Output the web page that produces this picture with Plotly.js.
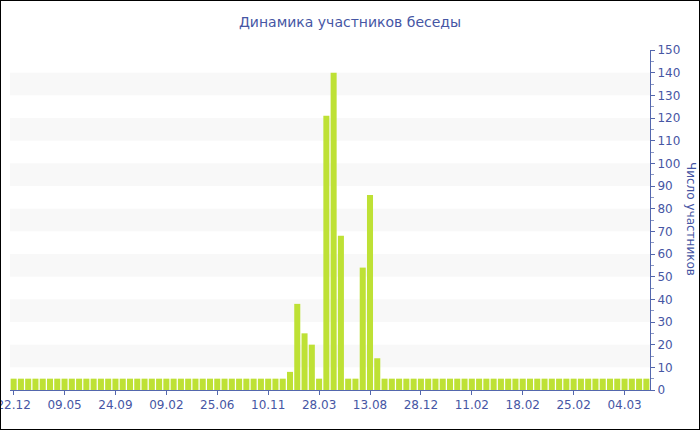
<!DOCTYPE html>
<html>
<head>
<meta charset="utf-8">
<script src="https://cdn.plot.ly/plotly-3.0.1.min.js"></script>
<style>
  html, body { margin: 0; padding: 0; background: #fff; }
  #wrap { position: relative; width: 700px; height: 430px; overflow: hidden; }
  #chart { position: absolute; left: 0; top: 0; width: 700px; height: 430px; }
  #frame { position: absolute; left: 0; top: 0; width: 700px; height: 430px; box-sizing: border-box; border: 1px solid #000; pointer-events: none; }
</style>
</head>
<body>
<div id="wrap"><div id="chart"></div><div id="frame"></div></div>
<script>
// Number of participants per bar (88 bars, left to right)
const participants = [
  5,5,5,5,5,5,5,5,5,5,
  5,5,5,5,5,5,5,5,5,5,
  5,5,5,5,5,5,5,5,5,5,
  5,5,5,5,5,5,5,5,8,38,
  25,20,5,121,140,68,5,5,54,86,
  14,5,5,5,5,5,5,5,5,5,
  5,5,5,5,5,5,5,5,5,5,
  5,5,5,5,5,5,5,5,5,5,
  5,5,5,5,5,5,5,5
];
// Date labels shown under every 7th bar
const tickLabels = ["22.12","09.05","24.09","09.02","25.06","10.11","28.03","13.08","28.12","11.02","18.02","25.02","04.03"];
const labelStep = 7;
// Shaded horizontal bands (value ranges)
const bandStarts = [10,30,50,70,90,110,130];
const bandHeight = 10;

const barIndex = participants.map((v, i) => i);
const tickPositions = tickLabels.map((t, i) => i * labelStep);

const axisColor = '#5467ad';
const textColor = '#4656a4';
const font = 'DejaVu Sans, Verdana, sans-serif';

const shapes = bandStarts.map(b => ({
  type: 'rect', xref: 'paper', yref: 'y', x0: 0, x1: 1, y0: b, y1: b + bandHeight,
  fillcolor: '#f8f8f8', line: { width: 0 }, layer: 'below'
}));

const trace = {
  type: 'bar',
  x: barIndex,
  y: participants,
  marker: { color: '#bee135', line: { width: 0 } },
  hoverinfo: 'y'
};

const layout = {
  width: 700, height: 430,
  margin: { l: 10, r: 50, t: 50, b: 40 },
  paper_bgcolor: '#fff', plot_bgcolor: 'rgba(0,0,0,0)',
  bargap: 0.17,
  showlegend: false,
  font: { family: font, size: 12, color: textColor },
  title: {
    text: 'Динамика участников беседы',
    font: { family: font, size: 14, color: textColor },
    xref: 'container', x: 0.5, xanchor: 'center',
    yref: 'container', y: 1 - 22 / 430, yanchor: 'middle'
  },
  xaxis: {
    range: [-0.5, participants.length - 0.5],
    tickmode: 'array', tickvals: tickPositions, ticktext: tickLabels,
    ticklabeloverflow: 'allow',
    showgrid: false, zeroline: false,
    showline: true, linecolor: axisColor, linewidth: 1,
    ticks: 'outside', ticklen: 4, tickcolor: axisColor,
    tickfont: { family: font, size: 12, color: textColor },
    fixedrange: true
  },
  yaxis: {
    side: 'right',
    range: [0, 150],
    dtick: 10, tick0: 0,
    showgrid: false, zeroline: false,
    showline: true, linecolor: axisColor, linewidth: 1,
    ticks: 'outside', ticklen: 4, tickcolor: axisColor,
    minor: { dtick: 5, ticks: 'outside', ticklen: 3, tickcolor: '#8a97c6', showgrid: false },
    tickfont: { family: font, size: 12, color: textColor },
    fixedrange: true
  },
  shapes: shapes,
  annotations: [{
    text: 'Число участников',
    xref: 'paper', yref: 'paper',
    x: (691 - 10) / 640, y: (390 - 219) / 340,
    xanchor: 'center', yanchor: 'middle',
    textangle: 90, showarrow: false,
    font: { family: font, size: 12, color: textColor }
  }]
};

Plotly.newPlot('chart', [trace], layout, { displayModeBar: false, staticPlot: true });
</script>
</body>
</html>
